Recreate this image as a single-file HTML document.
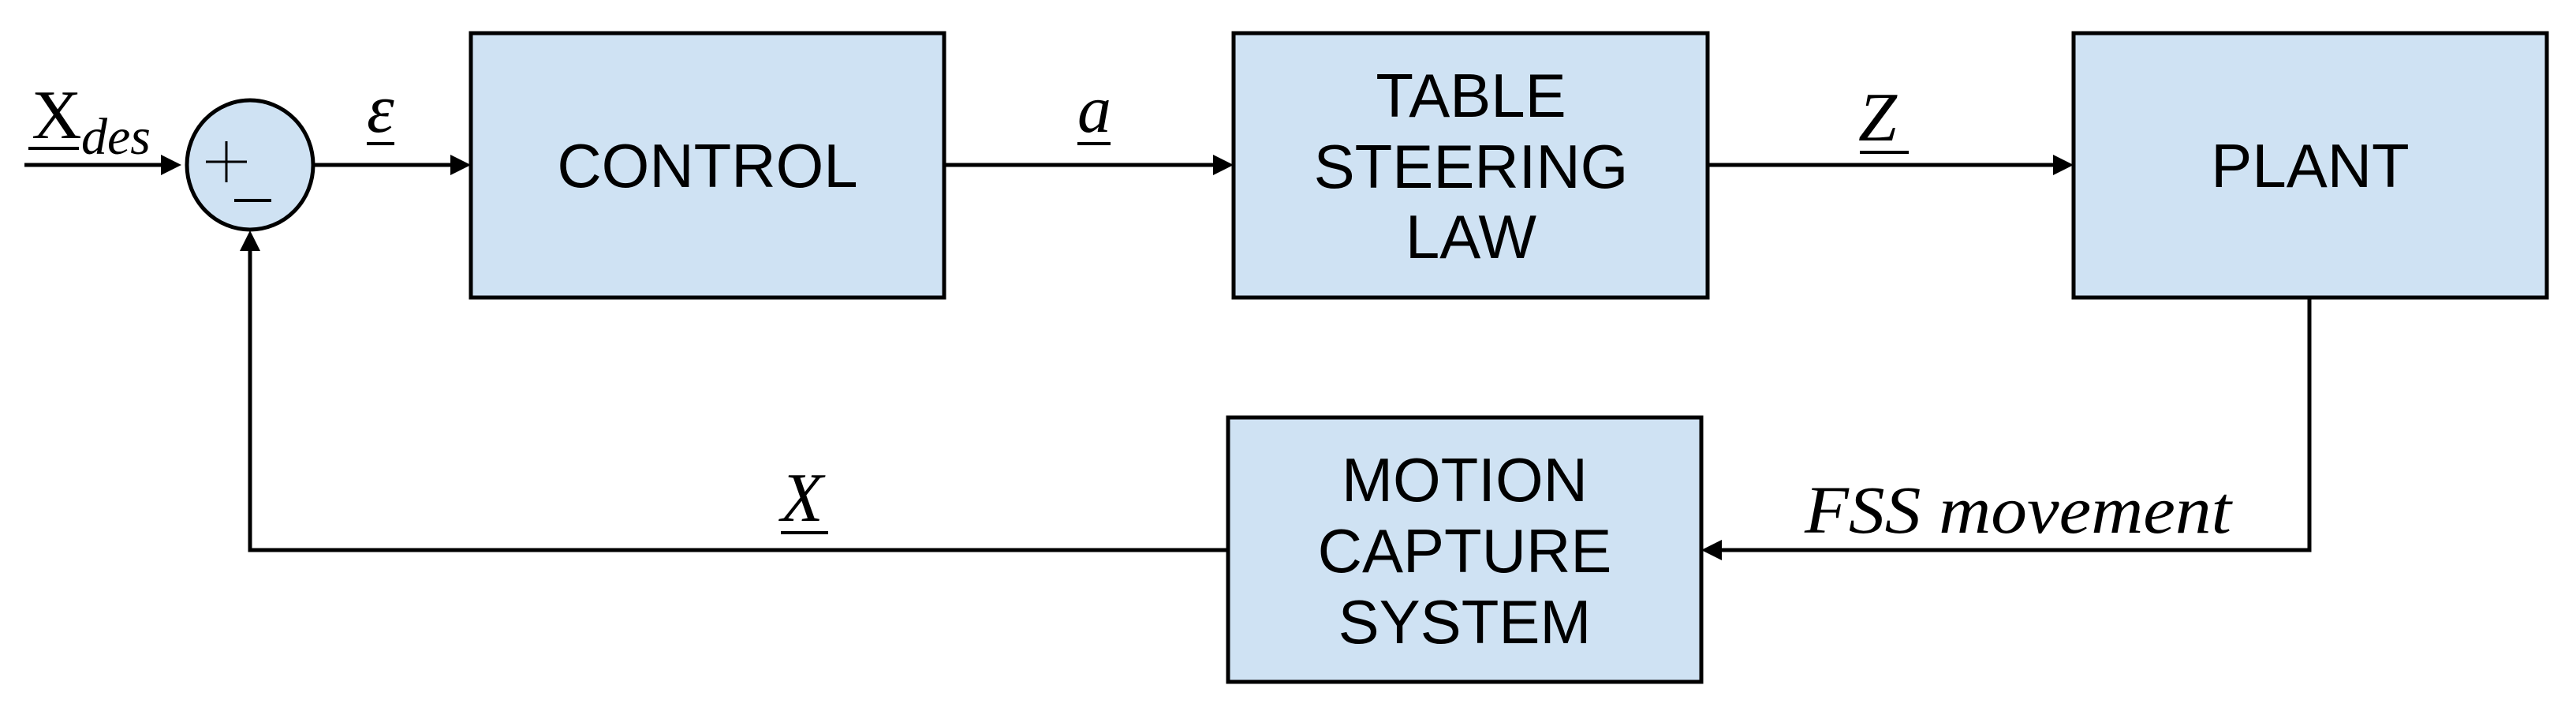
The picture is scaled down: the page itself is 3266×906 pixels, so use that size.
<!DOCTYPE html>
<html><head><meta charset="utf-8"><style>
html,body{margin:0;padding:0;background:#fff;}
svg{display:block;}
.b{font-family:"Liberation Sans",sans-serif;font-size:78px;text-anchor:middle;fill:#000;}
.m{font-family:"Liberation Serif",serif;font-style:italic;fill:#000;}
</style></head><body>
<svg width="3266" height="906" viewBox="0 0 3266 906" xmlns="http://www.w3.org/2000/svg">
<g fill="#cfe2f3" stroke="#000" stroke-width="5">
<rect x="597" y="42" width="600" height="335"/>
<rect x="1564" y="42" width="601" height="335"/>
<rect x="2629" y="42" width="600" height="335"/>
<rect x="1557" y="529" width="600" height="335"/>
<ellipse cx="317" cy="209" rx="80" ry="82"/>
</g>
<g stroke="#000" stroke-width="5" fill="none">
<line x1="31" y1="209" x2="215" y2="209"/>
<line x1="397" y1="209" x2="575" y2="209"/>
<line x1="1197" y1="209" x2="1542" y2="209"/>
<line x1="2165" y1="209" x2="2607" y2="209"/>
<polyline points="2928,377 2928,697 2180,697"/>
<polyline points="1557,697 317,697 317,313"/>
</g>
<g fill="#000">
<polygon points="230,209 204,196 204,222"/>
<polygon points="597,209 571,196 571,222"/>
<polygon points="1564,209 1538,196 1538,222"/>
<polygon points="2629,209 2603,196 2603,222"/>
<polygon points="2157,697 2183,684 2183,710"/>
<polygon points="317,292 304,318 330,318"/>
</g>
<g stroke="#000" stroke-width="3">
<line x1="261" y1="205" x2="313" y2="205"/>
<line x1="287" y1="179" x2="287" y2="231"/>
</g>
<line x1="297" y1="254" x2="344" y2="254" stroke="#000" stroke-width="4"/>
<text class="b" x="897" y="237">CONTROL</text>
<text class="b" x="1865" y="148">TABLE</text>
<text class="b" x="1865" y="238">STEERING</text>
<text class="b" x="1865" y="327">LAW</text>
<text class="b" x="2929" y="237">PLANT</text>
<text class="b" x="1857" y="635">MOTION</text>
<text class="b" x="1857" y="725">CAPTURE</text>
<text class="b" x="1857" y="815">SYSTEM</text>
<g stroke="#000" stroke-width="4">
<line x1="36" y1="188" x2="100" y2="188"/>
<line x1="465" y1="182" x2="500" y2="182"/>
<line x1="1366" y1="182" x2="1408" y2="182"/>
<line x1="2358" y1="193" x2="2420" y2="193"/>
<line x1="990" y1="675" x2="1050" y2="675"/>
</g>
<text class="m" x="40" y="175" font-size="88" style="font-style:normal">X</text>
<text class="m" x="103" y="195" font-size="66">des</text>
<text class="m" x="465" y="167" font-size="88">ε</text>
<text class="m" x="1366" y="167" font-size="86">a</text>
<text class="m" x="2356" y="178" font-size="88">Z</text>
<text class="m" x="990" y="660" font-size="88">X</text>
<text class="m" x="2288" y="675" font-size="86" textLength="541" lengthAdjust="spacingAndGlyphs">FSS movement</text>
</svg>
</body></html>
